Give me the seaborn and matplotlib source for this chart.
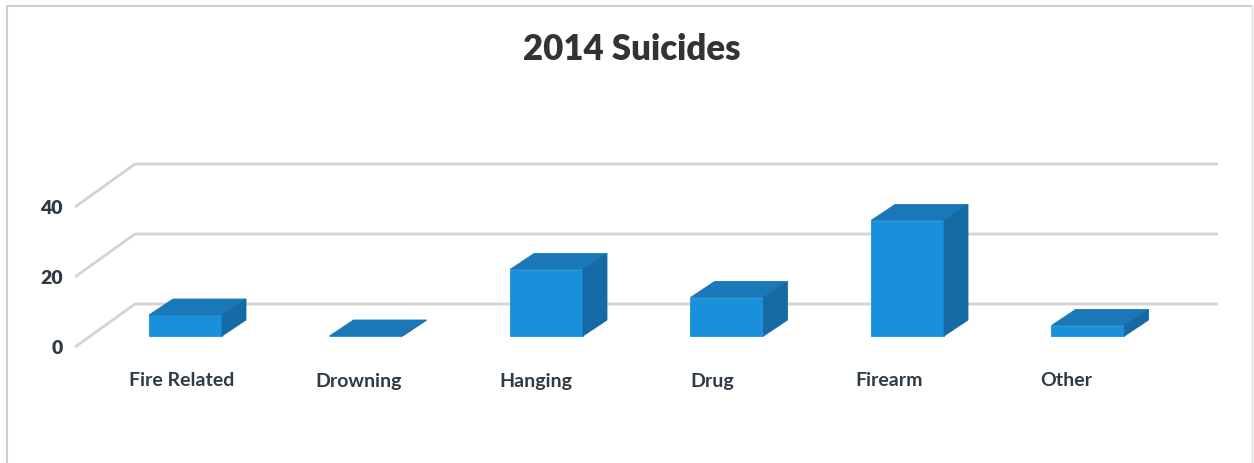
import matplotlib
matplotlib.use("Agg")
import matplotlib.pyplot as plt
import seaborn as sns
import numpy as np
from matplotlib.patches import Polygon
from matplotlib.lines import Line2D

# ---- data ----
categories = ["Fire Related", "Drowning", "Hanging", "Drug", "Firearm", "Other"]
values = [6, 0, 19, 11, 33, 3]
tick_values = [0, 20, 40]
title = "2014 Suicides"

# ---- style ----
sns.set_theme(style="white")
plt.rcParams["font.family"] = ["Lato", "DejaVu Sans"]

FRONT = "#1a90da"
TOP = "#1b78b8"
SIDE = "#156aa3"
GRID = "#d3d3d3"
TEXT = "#2f3b44"

W, H = 1254, 464
fig = plt.figure(figsize=(W / 100, H / 100), dpi=100)
ax = fig.add_axes([0, 0, 1, 1])

PX_PER_CAT = 180.5
PX_PER_VAL = 3.5
X0_PX = 185.5          # centre of first bar (pixels from left)
FLOOR_PX = 464 - 337   # bar floor (pixels from bottom)

sns.barplot(x=categories, y=values, color=FRONT, saturation=1, width=73 / PX_PER_CAT,
            ax=ax, zorder=3, linewidth=0.6, edgecolor=FRONT)

ax.set_xlim(-X0_PX / PX_PER_CAT, (W - X0_PX) / PX_PER_CAT)
ax.set_ylim(-FLOOR_PX / PX_PER_VAL, (H - FLOOR_PX) / PX_PER_VAL)
ax.axis("off")

def px(dx, dy):
    return dx / PX_PER_CAT, dy / PX_PER_VAL

# ---- walls / gridlines ----
front_off = px(0, -11)[1]
back_off = px(0, 32)[1]
x_front = (75 - X0_PX) / PX_PER_CAT
x_back = (135 - X0_PX) / PX_PER_CAT
x_end = (1218 - X0_PX) / PX_PER_CAT
for v in tick_values:
    ax.plot([x_front, x_back, x_end], [v + front_off, v + back_off, v + back_off],
            color=GRID, lw=2, zorder=0, solid_capstyle="butt")
    ax.text((63 - X0_PX) / PX_PER_CAT, v + front_off, str(v), ha="right", va="center",
            fontsize=14, fontweight="heavy", color=TEXT)

# ---- 3D faces of bars ----
ddx, ddy = px(24, 16)
for p in ax.patches[:]:
    x0, w, h = p.get_x(), p.get_width(), p.get_height()
    top = Polygon([(x0, h), (x0 + w, h), (x0 + w + ddx, h + ddy), (x0 + ddx, h + ddy)],
                  closed=True, facecolor=TOP, edgecolor=TOP, lw=0.6, zorder=3)
    side = Polygon([(x0 + w, 0), (x0 + w + ddx, ddy), (x0 + w + ddx, h + ddy), (x0 + w, h)],
                   closed=True, facecolor=SIDE, edgecolor=SIDE, lw=0.6, zorder=3)
    ax.add_patch(top)
    ax.add_patch(side)

# ---- category labels (front plane) ----
label_y = (H - 381 - FLOOR_PX) / PX_PER_VAL
for i, c in enumerate(categories):
    xl = i * 0.98 - 0.02
    ax.text(xl, label_y, c, ha="center", va="center", fontsize=14,
            fontweight="bold", color=TEXT)

# ---- title ----
fig.text(632 / W, 1 - 50 / H, title, ha="center", va="center", fontsize=25,
         fontweight="heavy", color="#333333")

# ---- chart border ----
fig.add_artist(Line2D([7 / W, 7 / W], [0, 1 - 7 / H], transform=fig.transFigure, color="#cfcfcf", lw=1.5))
fig.add_artist(Line2D([7 / W, 1 - 2 / W], [1 - 7 / H, 1 - 7 / H], transform=fig.transFigure, color="#cfcfcf", lw=1.5))
fig.add_artist(Line2D([1 - 2 / W, 1 - 2 / W], [0, 1 - 7 / H], transform=fig.transFigure, color="#dddddd", lw=1))

fig.savefig("out.png", dpi=100)
